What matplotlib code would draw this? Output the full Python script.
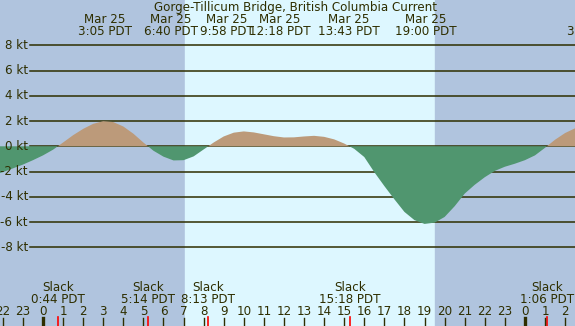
import numpy as np
from matplotlib import pyplot as plt
from matplotlib import transforms

# hours after midnight, Mar 25 (PDT) and current speed in knots
hours = [-2.5, -2.0, -1.5, -1.0, -0.5, 0.0, 0.5, 1.0, 1.5, 2.0, 2.5, 3.0, 3.5,
         4.0, 4.5, 5.0, 5.5, 6.0, 6.5, 7.0, 7.5, 8.0, 8.5, 9.0, 9.5, 10.0,
         10.5, 11.0, 11.5, 12.0, 12.5, 13.0, 13.5, 14.0, 14.5, 15.0, 15.5,
         16.0, 16.5, 17.0, 17.5, 18.0, 18.5, 19.0, 19.5, 20.0, 20.5, 21.0,
         21.5, 22.0, 22.5, 23.0, 23.5, 24.0, 24.5, 25.0, 25.5, 26.0, 26.5, 27.0]
speed = [-2.3, -2.05, -1.75, -1.45, -1.1, -0.72, -0.27, 0.3, 0.88, 1.38, 1.78,
         1.99, 1.92, 1.57, 1.0, 0.3, -0.35, -0.82, -1.12, -1.1, -0.8, -0.25,
         0.3, 0.78, 1.08, 1.18, 1.1, 0.95, 0.8, 0.7, 0.71, 0.78, 0.83, 0.75,
         0.55, 0.22, -0.2, -0.85, -2.05, -3.15, -4.2, -5.2, -5.85, -6.15,
         -6.05, -5.6, -4.75, -3.75, -3.05, -2.45, -1.95, -1.62, -1.38, -1.1,
         -0.72, -0.12, 0.52, 1.05, 1.43, 1.75]

# max flood / max ebb events (top labels)
event_dates = ["Mar 25", "Mar 25", "Mar 25", "Mar 25", "Mar 25", "Mar 25", "Mar 26"]
event_times = ["3:05 PDT", "6:40 PDT", "9:58 PDT", "12:18 PDT", "13:43 PDT",
               "19:00 PDT", "3:24 PDT"]

# slack water (bottom labels)
slack_hours = [0.733, 5.233, 8.217, 15.3, 25.1]
slack_times = ["0:44 PDT", "5:14 PDT", "8:13 PDT", "15:18 PDT", "1:06 PDT"]

sunrise, sunset = 7.07, 19.52
yticks = [8, 6, 4, 2, 0, -2, -4, -6, -8]
title = "Gorge-Tillicum Bridge, British Columbia Current"

W, H = 575, 326
x0px, pxh = 43.0, 20.08      # pixel of midnight, pixels per hour
y0px, pxk = 146.3, 12.62     # pixel of 0 kt, pixels per knot
# top labels are spread apart so they don't collide (pixel centres)
date_label_px = [105, 171, 227, 279.5, 348.5, 425.5, 602]
time_label_px = [105, 171, 227, 279.5, 348.5, 425.5, 594]

night = "#B0C4DE"
day = "#DDF7FF"
flood = "#BC9A7A"
ebb = "#50966F"
ink = "#2E2E00"

fig = plt.figure(figsize=(W / 100, H / 100), dpi=100)
ax = fig.add_axes([0, 0, 1, 1])
ax.set_xlim(-x0px / pxh, (W - x0px) / pxh)
ax.set_ylim((y0px - H) / pxk, y0px / pxk)
ax.axis("off")

ax.axvspan(-10, sunrise, color=night, zorder=0)
ax.axvspan(sunrise, sunset, color=day, zorder=0)
ax.axvspan(sunset, 40, color=night, zorder=0)

# grid lines
for v in yticks:
    ax.plot([(30 - x0px) / pxh, 40], [v, v], color=ink, lw=1.1, zorder=1)

t = np.array(hours)
s = np.array(speed)
ax.fill_between(t, 0, s, where=s >= 0, interpolate=True, color=flood, lw=0, zorder=1.5)
ax.fill_between(t, 0, s, where=s <= 0, interpolate=True, color=ebb, lw=0, zorder=2)

fs = 8.6
xpx = transforms.blended_transform_factory(ax.transData, fig.transFigure)
ypx = transforms.blended_transform_factory(fig.transFigure, ax.transData)

def ty(p):
    return 1 - p / H

for v in yticks:
    ax.text(28 / W, v, f"{v} kt", transform=ypx, ha="right", va="center",
            fontsize=fs, color=ink)

ax.text(295 / W, ty(7.5), title, transform=fig.transFigure, ha="center",
        va="center", fontsize=fs, color=ink)
for p, d in zip(date_label_px, event_dates):
    ax.text(p / W, ty(19.5), d, transform=fig.transFigure, ha="center", va="center",
            fontsize=fs, color=ink)
for p, tm in zip(time_label_px, event_times):
    ax.text(p / W, ty(31.5), tm, transform=fig.transFigure, ha="center", va="center",
            fontsize=fs, color=ink)

for h, tm in zip(slack_hours, slack_times):
    ax.text(h, ty(287.5), "Slack", transform=xpx, ha="center", va="center", fontsize=fs, color=ink)
    ax.text(h, ty(299.5), tm, transform=xpx, ha="center", va="center", fontsize=fs, color=ink)
    ax.plot([h, h], [ty(316.5), 0], transform=xpx, color="red", lw=1.2, zorder=3)

for h in range(-2, 27):
    ax.text(h, ty(311.5), str(h % 24), transform=xpx, ha="center", va="center",
            fontsize=fs, color=ink)
    lw = 2.4 if h % 24 == 0 else 1.0
    ax.plot([h, h], [ty(318), 0], transform=xpx, color=ink, lw=lw, zorder=3)

fig.savefig("out.png", dpi=100)
